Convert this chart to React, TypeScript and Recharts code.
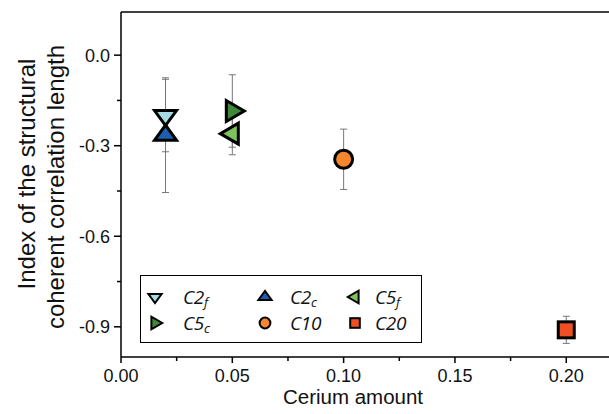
import React from 'react'
import { ScatterChart, Scatter, XAxis, YAxis, ErrorBar, ReferenceLine, Legend } from 'recharts'

// samples, in legend order
const sampleNames = ['C2', 'C2', 'C5', 'C5', 'C10', 'C20']
const sampleSubs = ['f', 'c', 'f', 'c', '', '']
const ceriumAmount = [0.02, 0.02, 0.05, 0.05, 0.1, 0.2]
const correlationIndex = [-0.2, -0.265, -0.26, -0.185, -0.345, -0.91]
const indexError = [0.12, 0.19, 0.07, 0.12, 0.1, 0.045]
const markerKinds = ['down', 'up', 'left', 'right', 'circle', 'square']
const markerColors = ['#a7dde2', '#1d5eae', '#7dc25c', '#3f8a39', '#f4862d', '#f04f24']

// legend grid: 3 columns, 2 rows
const legendOrder = [0, 1, 2, 3, 4, 5]

const xMajorTicks = [0, 0.05, 0.1, 0.15, 0.2]
const xMinorTicks = [0.025, 0.075, 0.125, 0.175]
const yMajorTicks = [0, -0.3, -0.6, -0.9]
const yMinorTicks = [-0.15, -0.45, -0.75]

const X_MAX = 0.2192
const Y_MIN = -1.0
const Y_MAX = 0.143

const AXIS_FONT = '"Liberation Sans", Arial, sans-serif'
const LEGEND_FONT = '"Open Sans", sans-serif'

const points = ceriumAmount.map((x, i) => ({
  x,
  y: correlationIndex[i],
  err: indexError[i],
}))

function Marker({ kind, cx, cy, fill, s = 1 }: { kind: string; cx: number; cy: number; fill: string; s?: number }) {
  const sw = s < 1 ? 2 : 3
  const common = { fill, stroke: '#000', strokeWidth: sw, strokeLinejoin: 'miter' as const }
  if (kind === 'circle') return <circle cx={cx} cy={cy} r={9 * s} {...common} />
  if (kind === 'square') return <rect x={cx - 8 * s} y={cy - 8 * s} width={16 * s} height={16 * s} {...common} />
  let pts: number[][] = []
  if (kind === 'down' || kind === 'up') {
    const hb = 11 * s
    const h = 15 * s
    pts =
      kind === 'down'
        ? [[cx - hb, cy - h / 3], [cx + hb, cy - h / 3], [cx, cy + (2 * h) / 3]]
        : [[cx - hb, cy + h / 3], [cx + hb, cy + h / 3], [cx, cy - (2 * h) / 3]]
  } else {
    const hb = 10.5 * s
    const h = 18 * s
    pts =
      kind === 'right'
        ? [[cx - h / 3, cy - hb], [cx - h / 3, cy + hb], [cx + (2 * h) / 3, cy]]
        : [[cx + h / 3, cy - hb], [cx + h / 3, cy + hb], [cx - (2 * h) / 3, cy]]
  }
  return <polygon points={pts.map((p) => p.join(',')).join(' ')} {...common} />
}

const XTick = (props: any) => {
  const { x, y, payload } = props
  const major = xMajorTicks.includes(payload.value)
  return (
    <g>
      <line x1={x} x2={x} y1={y} y2={y + (major ? 6 : 4)} stroke="#000" strokeWidth={1.5} />
      {major && (
        <text x={x} y={y + 24.5} textAnchor="middle" fontFamily={AXIS_FONT} fontSize={18} fill="#111">
          {payload.value.toFixed(2)}
        </text>
      )}
    </g>
  )
}

const YTick = (props: any) => {
  const { x, y, payload } = props
  const major = yMajorTicks.includes(payload.value)
  return (
    <g>
      <line x1={x - (major ? 7 : 4)} x2={x} y1={y} y2={y} stroke="#000" strokeWidth={1.5} />
      {major && (
        <text x={x - 11} y={y} dy="0.36em" textAnchor="end" fontFamily={AXIS_FONT} fontSize={18} fill="#111">
          {payload.value.toFixed(1)}
        </text>
      )}
    </g>
  )
}

const renderLegend = () => (
  <div
    style={{
      width: 282,
      height: 68,
      boxSizing: 'border-box',
      border: '1.5px solid #000',
      background: '#fff',
      position: 'relative',
      fontFamily: LEGEND_FONT,
      fontStyle: 'italic',
      fontSize: 19,
      letterSpacing: -0.3,
      color: '#111',
    }}
  >
    {legendOrder.map((idx, k) => {
      const col = k % 3
      const row = Math.floor(k / 3)
      const mx = [14, 124, 214][col]
      const tx = [42, 149, 234][col]
      const cy = row === 0 ? 21 : 47
      return (
        <React.Fragment key={idx}>
          <svg width={24} height={24} style={{ position: 'absolute', left: mx - 12, top: cy - 12 }}>
            <Marker kind={markerKinds[idx]} cx={12} cy={12} fill={markerColors[idx]} s={0.6} />
          </svg>
          <span style={{ position: 'absolute', left: tx, top: cy - 11, lineHeight: '22px', whiteSpace: 'nowrap' }}>
            {sampleNames[idx]}
            {sampleSubs[idx] && <span style={{ fontSize: 13, verticalAlign: -3 }}>{sampleSubs[idx]}</span>}
          </span>
        </React.Fragment>
      )
    })}
  </div>
)

export default function App() {
  return (
    <div style={{ position: 'absolute', left: 0, top: 0, width: 609, height: 414, background: '#fff' }}>
      <ScatterChart width={609} height={414} margin={{ top: 12, right: 0, bottom: 0, left: 0 }}>
        <XAxis
          type="number"
          dataKey="x"
          domain={[0, X_MAX]}
          allowDataOverflow
          ticks={[...xMajorTicks, ...xMinorTicks].sort((a, b) => a - b)}
          interval={0}
          tick={<XTick />}
          tickLine={false}
          tickSize={0}
          tickMargin={0}
          axisLine={{ stroke: '#000', strokeWidth: 1.5 }}
          height={57}
        />
        <YAxis
          type="number"
          dataKey="y"
          domain={[Y_MIN, Y_MAX]}
          allowDataOverflow
          ticks={[...yMajorTicks, ...yMinorTicks].sort((a, b) => a - b)}
          interval={0}
          tick={<YTick />}
          tickLine={false}
          tickSize={0}
          tickMargin={0}
          axisLine={{ stroke: '#000', strokeWidth: 1.5 }}
          width={121}
        />
        <ReferenceLine y={Y_MAX} stroke="#000" strokeWidth={1.5} />
        {/* error bars first so markers sit on top */}
        <Scatter data={points} shape={() => <g />} legendType="none" isAnimationActive={false}>
          <ErrorBar dataKey="err" direction="y" width={3.5} stroke="#777" strokeWidth={1} />
        </Scatter>
        {points.map((p, i) => (
          <Scatter
            key={i}
            name={sampleNames[i] + sampleSubs[i]}
            data={[p]}
            isAnimationActive={false}
            shape={(props: any) => <Marker kind={markerKinds[i]} cx={props.cx} cy={props.cy} fill={markerColors[i]} />}
          />
        ))}
        <Legend
          layout="vertical"
          align="center"
          verticalAlign="middle"
          content={renderLegend}
          wrapperStyle={{ left: 140, top: 275, width: 282, height: 68 }}
        />
        <text x={26} y={174} transform="rotate(-90 26 174)" textAnchor="middle" dominantBaseline="central" fontFamily={AXIS_FONT} fontSize={24} fill="#111">
          Index of the structural
        </text>
        <text x={55} y={187} transform="rotate(-90 55 187)" textAnchor="middle" dominantBaseline="central" fontFamily={AXIS_FONT} fontSize={24} fill="#111">
          coherent correlation length
        </text>
        <text x={353} y={404} textAnchor="middle" fontFamily={AXIS_FONT} fontSize={20.5} fill="#111">
          Cerium amount
        </text>
      </ScatterChart>
    </div>
  )
}
